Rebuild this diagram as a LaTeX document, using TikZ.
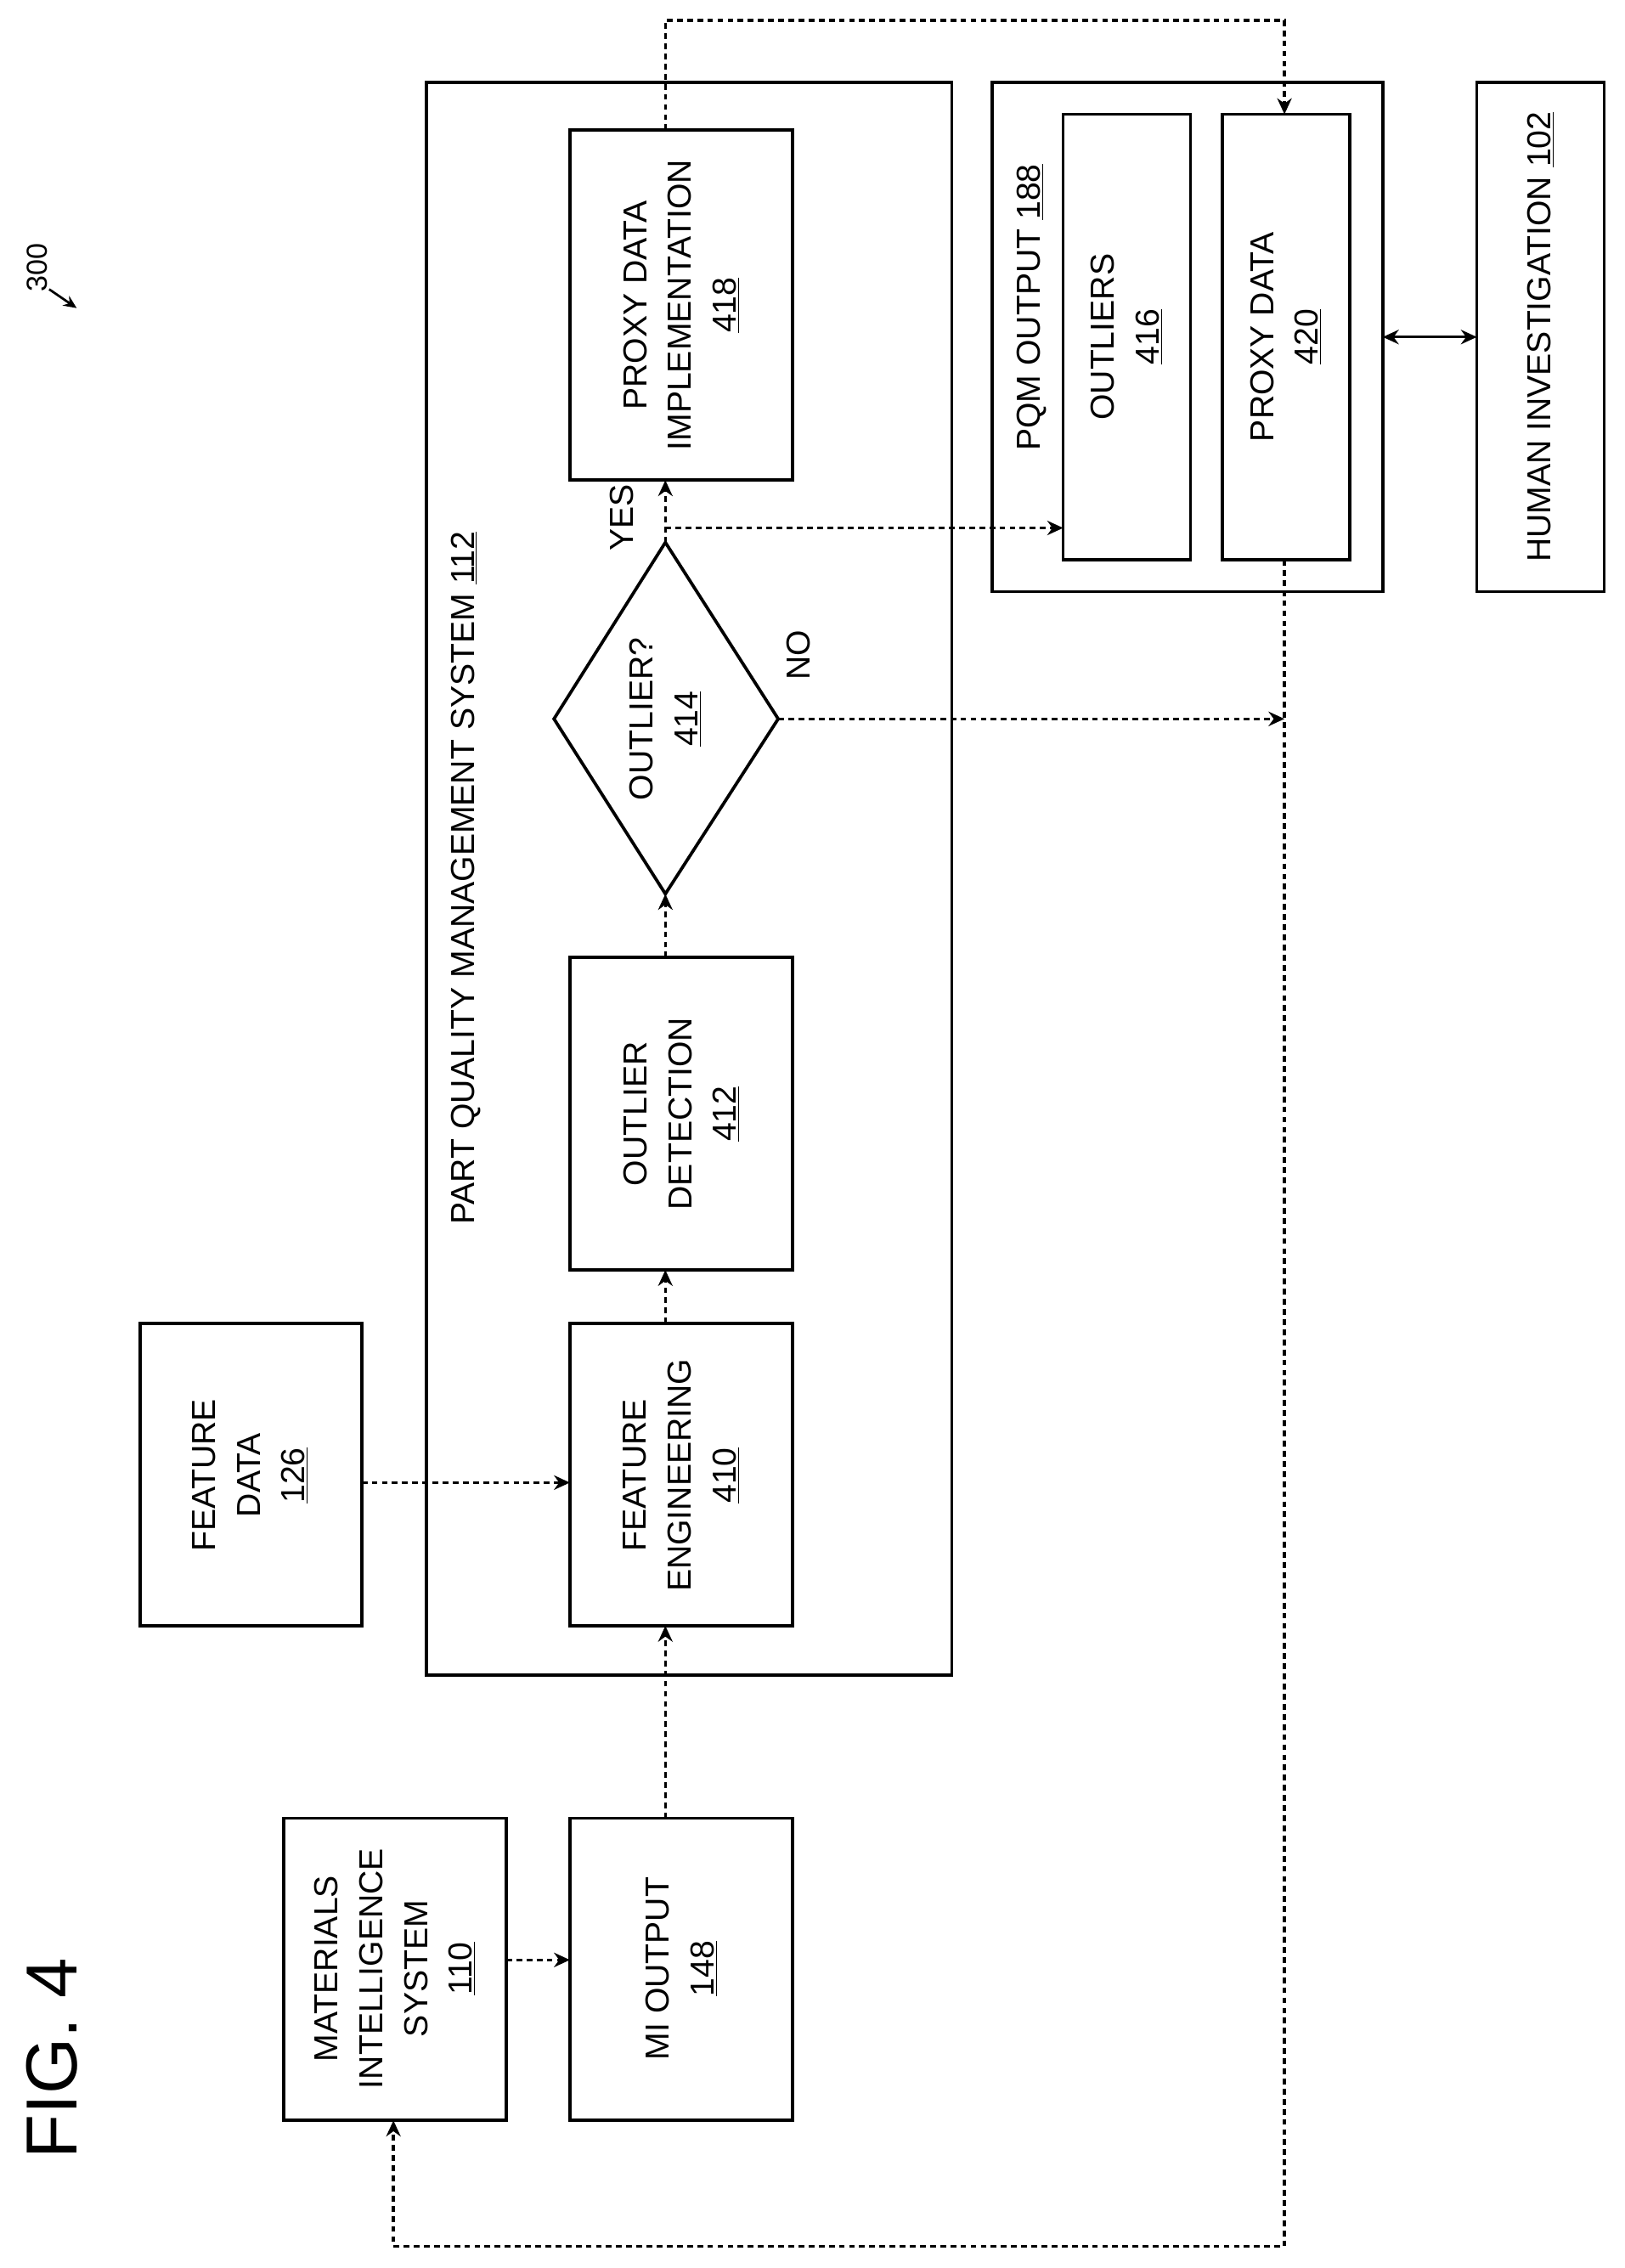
\documentclass[tikz,border=0pt]{standalone}
\usepackage{fontspec}
\setmainfont{Liberation Sans}
\usetikzlibrary{arrows.meta,shapes.geometric}
\begin{document}
\begin{tikzpicture}[x=1pt,y=-1pt,
  box/.style={draw,line width=2.2pt},
  txt/.style={rotate=90,align=center,font=\fontsize{23}{31}\selectfont},
  da/.style={dash pattern=on 4pt off 3pt,line width=2pt,-{Stealth[length=11pt,width=10pt]}}]
\useasboundingbox (0,0) rectangle (1123,1568);
% boxes
\draw[box] (295,57) rectangle (658,1158);
\node[txt] at (322,607) {PART QUALITY MANAGEMENT SYSTEM \underline{112}};
\draw[box] (394,90) rectangle (548,332); \node[txt] (pdi) at (471,211) {PROXY DATA\\IMPLEMENTATION\\\underline{418}};
\draw[box] (460,375) -- (538,497) -- (460,618) -- (383,497) -- cycle;
\node[txt] at (460,497) {OUTLIER?\\\underline{414}};
\draw[box] (394,662) rectangle (548,878); \node[txt] at (471,770) {OUTLIER\\DETECTION\\\underline{412}};
\draw[box] (394,915) rectangle (548,1124); \node[txt] at (471,1020) {FEATURE\\ENGINEERING\\\underline{410}};
\draw[box] (97,915) rectangle (250,1124); \node[txt] at (173,1020) {FEATURE\\DATA\\\underline{126}};
\draw[box] (394,1257) rectangle (548,1466); \node[txt] at (471,1361) {MI OUTPUT\\\underline{148}};
\draw[box] (196,1257) rectangle (350,1466); \node[txt] at (273,1361) {MATERIALS\\INTELLIGENCE\\SYSTEM\\\underline{110}};
\draw[box] (686,57) rectangle (956,409); \node[txt,anchor=east] at (713,110) {PQM OUTPUT \underline{188}};
\draw[box] (735,79) rectangle (823,387); \node[txt] at (779,233) {OUTLIERS\\\underline{416}};
\draw[box] (845,79) rectangle (933,387); \node[txt] at (889,233) {PROXY DATA\\\underline{420}};
\draw[box] (1021,57) rectangle (1109,409); \node[txt] at (1065,233) {HUMAN INVESTIGATION \underline{102}};
\draw[line width=2pt,{Stealth[length=11pt,width=10pt]}-{Stealth[length=11pt,width=10pt]}] (956,233) -- (1021,233);
% labels
\node[rotate=90,font=\fontsize{50}{50}\selectfont] at (36,1423) {FIG. 4};
\node[rotate=90,font=\fontsize{20}{20}\selectfont] at (26,185) {300};
\draw[line width=1.6pt,-{Stealth[length=9pt,width=8pt]}] (34,200) -- (53,213);
\node[txt] at (430,358) {YES};
\node[txt] at (552,453) {NO};
% connectors
\draw[da] (250,1025) -- (394,1025);
\draw[da] (350,1355) -- (394,1355);
\draw[da] (460,1257) -- (460,1124);
\draw[da] (460,915) -- (460,878);
\draw[da] (460,662) -- (460,618);
\draw[da] (460,375) -- (460,332);
\draw[da] (460,365) -- (735,365);
\draw[da] (538,497) -- (888,497);
\draw[da] (460,90) -- (460,14) -- (888,14) -- (888,79);
\draw[da] (888,387) -- (888,1553) -- (272,1553) -- (272,1466);
\end{tikzpicture}
\end{document}
